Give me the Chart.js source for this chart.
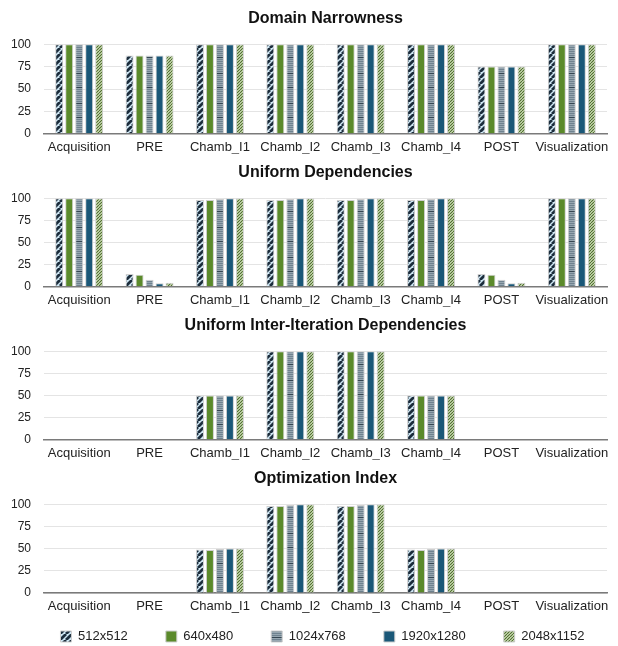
<!DOCTYPE html>
<html><head><meta charset="utf-8">
<script src="https://cdn.jsdelivr.net/npm/chart.js@4/dist/chart.umd.min.js"></script>
<style>
html,body{margin:0;padding:0;background:#fff;}
canvas{display:block;}
</style></head><body>
<canvas id="c1" width="618" height="154"></canvas>
<canvas id="c2" width="618" height="153"></canvas>
<canvas id="c3" width="618" height="153"></canvas>
<canvas id="c4" width="618" height="186"></canvas>
<script>
const categories = ['Acquisition','PRE','Chamb_I1','Chamb_I2','Chamb_I3','Chamb_I4','POST','Visualization'];
const seriesNames = ['512x512','640x480','1024x768','1920x1280','2048x1152'];
const yTicks = [0,25,50,75,100];
const chartTitles = ['Domain Narrowness','Uniform Dependencies','Uniform Inter-Iteration Dependencies','Optimization Index'];

// Domain Narrowness
const dn512  = [100,87.5,100,100,100,100,75,100];
const dn640  = [100,87.5,100,100,100,100,75,100];
const dn1024 = [100,87.5,100,100,100,100,75,100];
const dn1920 = [100,87.5,100,100,100,100,75,100];
const dn2048 = [100,87.5,100,100,100,100,75,100];
// Uniform Dependencies
const ud512  = [100,14.5,98,98,98,98,14.5,100];
const ud640  = [100,13.5,98,98,98,98,13.5,100];
const ud1024 = [100,8,99,99,99,99,8,100];
const ud1920 = [100,4,100,100,100,100,4,100];
const ud2048 = [100,4.5,100,100,100,100,4.5,100];
// Uniform Inter-Iteration Dependencies
const ui512  = [0,0,50,100,100,50,0,0];
const ui640  = [0,0,50,100,100,50,0,0];
const ui1024 = [0,0,50,100,100,50,0,0];
const ui1920 = [0,0,50,100,100,50,0,0];
const ui2048 = [0,0,50,100,100,50,0,0];
// Optimization Index
const oi512  = [0,0,49,98,98,49,0,0];
const oi640  = [0,0,48.5,98,98,48.5,0,0];
const oi1024 = [0,0,49.5,99,99,49.5,0,0];
const oi1920 = [0,0,50,100,100,50,0,0];
const oi2048 = [0,0,50,100,100,50,0,0];

const panels = [
  [dn512,dn640,dn1024,dn1920,dn2048],
  [ud512,ud640,ud1024,ud1920,ud2048],
  [ui512,ui640,ui1024,ui1920,ui2048],
  [oi512,oi640,oi1024,oi1920,oi2048]
];

Chart.defaults.font.family = "'Liberation Sans', Arial, Helvetica, sans-serif";

function stripes(fg, bg, size, lw){
  const c = document.createElement('canvas'); c.width = size; c.height = size;
  const x = c.getContext('2d');
  x.fillStyle = bg; x.fillRect(0,0,size,size);
  x.strokeStyle = fg; x.lineWidth = lw;
  x.beginPath();
  for (let k=-1;k<=1;k++){ x.moveTo(k*size, size); x.lineTo(k*size+size, 0); }
  x.stroke();
  return x.createPattern(c,'repeat');
}
function hlines(){
  const c = document.createElement('canvas'); c.width = 4; c.height = 30;
  const x = c.getContext('2d');
  x.fillStyle = '#6f828f'; x.fillRect(0,0,4,30);
  for (let r=0;r<30;r+=2){ x.fillStyle = '#97a7b1'; x.fillRect(0,r,4,1); }
  x.fillStyle = '#354652'; x.fillRect(0,13,4,1); x.fillRect(0,27,4,1);
  return x.createPattern(c,'repeat');
}
const fills = [
  stripes('#1c2d3c','#cfe7f4',6,2.8),
  '#5b8a2b',
  hlines(),
  '#1b5878',
  stripes('#4c6a2c','#d6e6c0',3,1.1)
];

// shift the bottom legend into place (horizontal centring on plot, vertical position)
const legendShift = {
  id: 'legendShift',
  afterLayout(chart){
    const lg = chart.legend;
    if (!lg || !lg.options.display) return;
    const dy = -21, dx = 19;
    lg.top += dy; lg.bottom += dy; lg.left += dx; lg.right += dx;
  }
};

panels.forEach((vals, p) => {
  const last = p === 3;
  new Chart(document.getElementById('c'+(p+1)), {
    type: 'bar',
    data: {
      labels: categories,
      datasets: seriesNames.map((n,i)=>({
        label: n, data: vals[i], backgroundColor: fills[i],
        borderColor: '#cfcfcf', borderWidth: 1,
        categoryPercentage: 0.71, barPercentage: 0.8
      }))
    },
    plugins: last ? [legendShift] : [],
    options: {
      responsive: false, animation: false,
      layout: { padding: { left: 0, right: 11, top: 0, bottom: last ? -28 : 0 } },
      plugins: {
        tooltip: { enabled: false },
        title: { display: true, text: chartTitles[p], fullSize: false, color: '#111',
                 font: { size: 16, weight: 'bold' }, padding: { top: 9, bottom: 16 } },
        legend: { display: last, position: 'bottom', fullSize: true,
                  labels: { boxWidth: 11, boxHeight: 11, padding: 38, color: '#222', font: { size: 13 } } }
      },
      scales: {
        x: { grid: { display: false, drawTicks: false }, border: { color: '#7a7a7a', width: 1.5 },
             afterFit: a => { a.height = 20; },
             ticks: { font: { size: 13 }, color: '#222', padding: 6, maxRotation: 0, autoSkip: false } },
        y: { min: 0, max: 100,
             afterBuildTicks: a => { a.ticks = yTicks.map(v => ({ value: v })); },
             afterFit: a => { a.width = 44; },
             grid: { color: '#e4e4e4', drawTicks: false }, border: { display: false },
             ticks: { font: { size: 12 }, color: '#222', padding: 13 } }
      }
    }
  });
});
</script>
</body></html>
